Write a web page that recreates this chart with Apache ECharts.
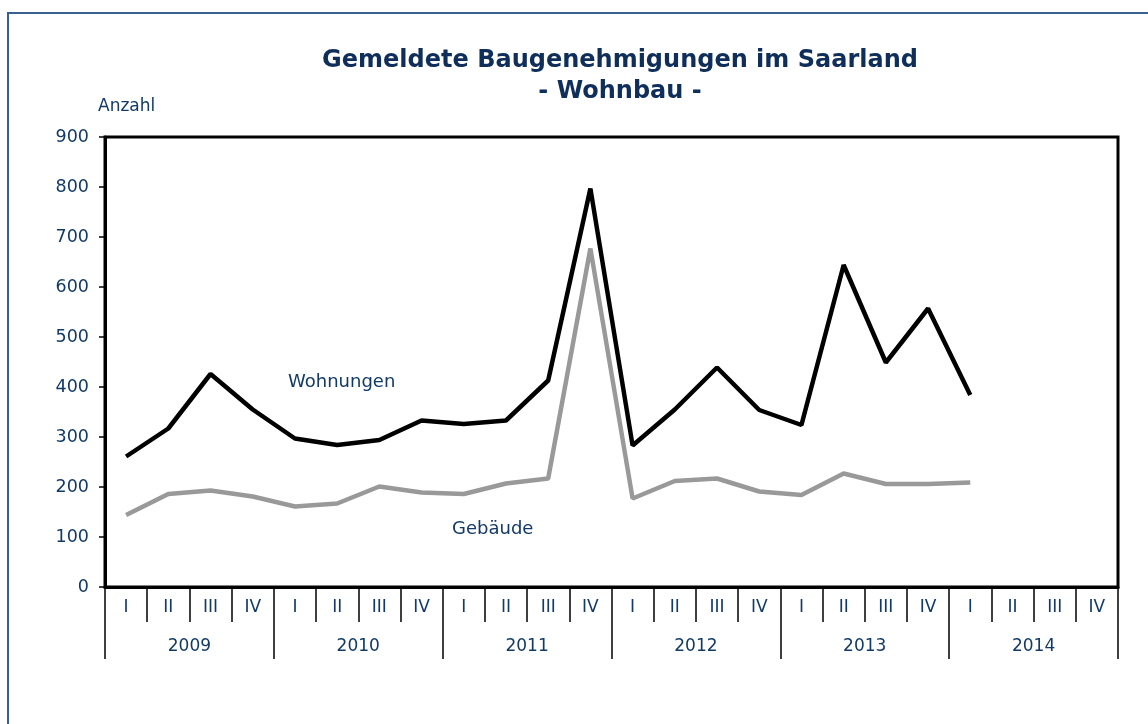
<!DOCTYPE html>
<html>
<head>
<meta charset="utf-8">
<script src="https://cdn.jsdelivr.net/npm/echarts@6/dist/echarts.min.js"></script>
<style>
html,body{margin:0;padding:0;background:#fff;}
#chart{width:1148px;height:724px;}
</style>
</head>
<body>
<div id="chart"></div>
<script>
const quarters = ['I','II','III','IV','I','II','III','IV','I','II','III','IV','I','II','III','IV','I','II','III','IV','I','II','III','IV'];
const years = ['2009','2010','2011','2012','2013','2014'];
const wohnungen = [261,317,426,355, 297,284,294,333, 326,333,413,797, 283,355,439,354, 324,644,449,557, 384,null,null,null];
const gebaeude = [144,186,193,181, 161,167,201,189, 186,207,217,677, 177,212,217,191, 184,227,206,206, 209,null,null,null];
const navy = '#123a66';
const font = 'DejaVu Sans';

const chart = echarts.init(document.getElementById('chart'));
chart.setOption({
  animation: false,
  backgroundColor: '#fff',
  title: {
    text: 'Gemeldete Baugenehmigungen im Saarland\n- Wohnbau -',
    left: 615, top: 40, textAlign: 'center',
    textStyle: {fontFamily: font, fontSize: 24, fontWeight: 'bold', color: '#0f2f5a', lineHeight: 31}
  },
  graphic: [
    {type: 'rect', shape: {x: 8, y: 13, width: 1200, height: 800}, style: {fill: 'none', stroke: '#3a6090', lineWidth: 2}, silent: true},
    {type: 'text', left: 98, top: 98, style: {text: 'Anzahl', font: '17px "DejaVu Sans"', fill: navy}},
    {type: 'text', left: 288, top: 373, style: {text: 'Wohnungen', font: '18px "DejaVu Sans"', fill: navy}},
    {type: 'text', left: 452, top: 520, style: {text: 'Gebäude', font: '18px "DejaVu Sans"', fill: navy}}
  ],
  grid: {left: 105, right: 30, top: 137, bottom: 137, show: true, borderColor: '#000', borderWidth: 3, backgroundColor: 'transparent'},
  xAxis: [
    {
      type: 'category', data: quarters, boundaryGap: true, position: 'bottom',
      axisLine: {show: true, lineStyle: {color: '#000', width: 3}},
      axisTick: {show: true, interval: 0, length: 35, lineStyle: {color: '#000', width: 1.5}},
      axisLabel: {interval: 0, margin: 12, fontFamily: font, fontSize: 17, color: navy},
      splitLine: {show: false}
    },
    {
      type: 'category', data: years, boundaryGap: true, position: 'bottom',
      axisLine: {show: false},
      axisTick: {show: true, interval: 0, length: 72, lineStyle: {color: '#000', width: 1.5}},
      axisLabel: {interval: 0, margin: 51, fontFamily: font, fontSize: 17, color: navy},
      splitLine: {show: false}
    }
  ],
  yAxis: {
    type: 'value', min: 0, max: 900, interval: 100,
    axisLine: {show: true, lineStyle: {color: '#000', width: 3}},
    axisTick: {show: true, length: 6, lineStyle: {color: '#000', width: 1.5}},
    axisLabel: {margin: 16, fontFamily: font, fontSize: 17.5, color: navy},
    splitLine: {show: false}
  },
  series: [
    {name: 'Gebäude', type: 'line', data: gebaeude, xAxisIndex: 0, symbol: 'none', connectNulls: false,
      lineStyle: {color: '#999999', width: 4.5}},
    {name: 'Wohnungen', type: 'line', data: wohnungen, xAxisIndex: 0, symbol: 'none', connectNulls: false,
      lineStyle: {color: '#000000', width: 4.5}}
  ]
});
</script>
</body>
</html>
